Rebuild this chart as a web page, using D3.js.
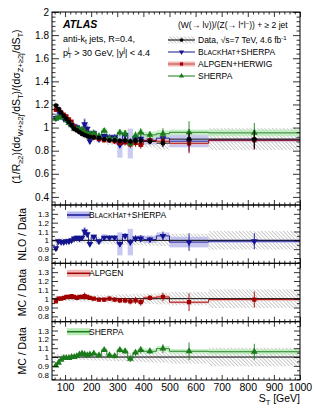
<!DOCTYPE html>
<html>
<head>
<meta charset="utf-8">
<script src="https://cdn.jsdelivr.net/npm/d3@7"></script>
<style>
body { margin: 0; background: #fff; }
text { font-family: "Liberation Sans", Arial, sans-serif; fill: #000; }
</style>
</head>
<body>
<div id="chart"></div>
<script>
// Data
const binEdges = [60, 70, 80, 90, 100, 110, 120, 130, 140, 150, 160, 170, 180, 190, 200,
                  220, 240, 260, 280, 300, 320, 340, 360, 380, 400, 450, 500, 650, 1000];

const dataVals = [1.19, 1.16, 1.13, 1.10, 1.075, 1.05, 1.02, 0.99, 0.975, 0.96, 0.945, 0.935, 0.925, 0.92,
                  0.915, 0.91, 0.90, 0.89, 0.89, 0.885, 0.89, 0.88, 0.885, 0.885, 0.88, 0.865, 0.90, 0.90];
const dataStat = [0.012, 0.01, 0.01, 0.01, 0.01, 0.01, 0.012, 0.012, 0.012, 0.013, 0.014, 0.015, 0.016, 0.017,
                  0.014, 0.016, 0.018, 0.02, 0.022, 0.025, 0.027, 0.03, 0.032, 0.035, 0.028, 0.04, 0.065, 0.085];
const dataSys = [0.035, 0.03, 0.03, 0.03, 0.03, 0.03, 0.03, 0.03, 0.03, 0.03, 0.035, 0.035, 0.035, 0.035,
                 0.04, 0.04, 0.04, 0.045, 0.045, 0.05, 0.05, 0.05, 0.055, 0.055, 0.06, 0.065, 0.075, 0.105];

// BlackHat+Sherpa
const bhMain = [1.083, 1.148, 1.107, 1.078, 1.064, 1.040, 1.020, 1.010, 1.004, 0.979, 0.973, 1.029, 0.990, 0.883,
                0.952, 0.901, 0.927, 0.917, 0.917, 0.850, 0.935, 0.862, 0.903, 0.903, 0.889, 0.908, 0.882, 0.891];
const bhRatio = [0.91, 0.99, 0.98, 0.98, 0.99, 0.99, 1.00, 1.02, 1.03, 1.02, 1.03, 1.10, 1.07, 0.96,
                 1.04, 0.99, 1.03, 1.03, 1.03, 0.96, 1.05, 0.98, 1.02, 1.02, 1.01, 1.05, 0.98, 0.99];
const bhBand = [0.03, 0.02, 0.02, 0.02, 0.02, 0.03, 0.02, 0.03, 0.03, 0.03, 0.03, 0.05, 0.04, 0.03,
                0.03, 0.03, 0.04, 0.03, 0.03, 0.13, 0.03, 0.15, 0.03, 0.04, 0.04, 0.04, 0.06, 0.02];

// Alpgen+Herwig
const alpMain = [1.154, 1.160, 1.130, 1.111, 1.097, 1.071, 1.051, 1.010, 0.985, 0.979, 0.964, 0.963, 0.944, 0.929,
                 0.915, 0.901, 0.891, 0.890, 0.881, 0.867, 0.872, 0.854, 0.867, 0.850, 0.889, 0.882, 0.864, 0.891];
const alpRatio = [0.97, 1.00, 1.00, 1.01, 1.02, 1.02, 1.03, 1.02, 1.01, 1.02, 1.02, 1.03, 1.02, 1.01,
                  1.00, 0.99, 0.99, 1.00, 0.99, 0.98, 0.98, 0.97, 0.98, 0.96, 1.01, 1.02, 0.96, 0.99];
const alpBand = [0.015, 0.015, 0.015, 0.015, 0.015, 0.015, 0.015, 0.015, 0.015, 0.015, 0.015, 0.015, 0.015, 0.015,
                 0.02, 0.02, 0.02, 0.02, 0.02, 0.02, 0.02, 0.02, 0.02, 0.02, 0.02, 0.02, 0.015, 0.015];

// Sherpa
const shMain = [1.077, 1.085, 1.096, 1.089, 1.064, 1.040, 1.020, 0.990, 0.985, 0.989, 0.983, 0.963, 0.944, 0.948,
                0.952, 0.928, 0.972, 0.908, 0.899, 0.956, 0.948, 0.862, 0.929, 0.956, 0.937, 0.947, 0.959, 0.954];
const shRatio = [0.905, 0.935, 0.97, 0.99, 0.99, 0.99, 1.00, 1.00, 1.01, 1.03, 1.04, 1.03, 1.02, 1.03,
                 1.04, 1.02, 1.08, 1.02, 1.01, 1.08, 1.065, 0.98, 1.05, 1.08, 1.065, 1.095, 1.065, 1.06];
const shBand = [0.015, 0.015, 0.015, 0.015, 0.015, 0.015, 0.015, 0.015, 0.015, 0.015, 0.02, 0.02, 0.02, 0.02,
                0.02, 0.02, 0.025, 0.025, 0.025, 0.025, 0.03, 0.03, 0.03, 0.03, 0.03, 0.03, 0.025, 0.03];

const ratioErr = [0.015, 0.012, 0.012, 0.012, 0.012, 0.012, 0.014, 0.014, 0.015, 0.016, 0.018, 0.04, 0.02, 0.02,
                  0.018, 0.02, 0.022, 0.025, 0.027, 0.03, 0.032, 0.035, 0.038, 0.04, 0.032, 0.05, 0.1, 0.09];

const xTicks = [100, 200, 300, 400, 500, 600, 700, 800, 900, 1000];
const mainYTicks = [0.4, 0.6, 0.8, 1, 1.2, 1.4, 1.6, 1.8, 2];
const ratioYTicks = [0.8, 0.9, 1, 1.1, 1.2, 1.3];

// Layout
const width = 316;
const height = 413;
const xLeft = 52, xRight = 300;

const colors = { data: '#000', bh: '#14148f', alp: '#a00000', sh: '#1b7a1b' };
const bandColors = { bh: '#b9b9ef', alp: '#f3b9b9', sh: '#b6ebb6' };

const bins = binEdges.slice(0, -1).map((lo, i) => ({ lo, hi: binEdges[i + 1], c: (lo + binEdges[i + 1]) / 2, i }));

const svg = d3.select('#chart').append('svg')
    .attr('width', width)
    .attr('height', height);

const defs = svg.append('defs');
const hatch = defs.append('pattern')
    .attr('id', 'hatch')
    .attr('patternUnits', 'userSpaceOnUse')
    .attr('width', 2.6).attr('height', 2.6)
    .attr('patternTransform', 'rotate(-45)');
hatch.append('line')
    .attr('x1', 0).attr('y1', 0).attr('x2', 0).attr('y2', 2.6)
    .attr('stroke', '#6e6e6e').attr('stroke-width', 0.7);

const x = d3.scaleLinear().domain([50, 1000]).range([xLeft, xRight]);
const xMinor = d3.range(60, 1001, 20).filter(v => v % 100 !== 0);

const symbols = {
    data: { type: d3.symbolCircle, size: 18, rot: 0 },
    bh: { type: d3.symbolTriangle, size: 20, rot: 180 },
    alp: { type: d3.symbolSquare, size: 18, rot: 0 },
    sh: { type: d3.symbolTriangle, size: 20, rot: 0 }
};

function drawMarker(g, key, cx, cy, scale = 1) {
    const s = symbols[key];
    g.append('path')
        .attr('d', d3.symbol().type(s.type).size(s.size * scale)())
        .attr('transform', `translate(${cx},${cy}) rotate(${s.rot})`)
        .attr('fill', colors[key]);
}

function drawFrame(g, y, top, bottom, yMajor, yMinor, showX, majorLen, minorLen) {
    const axes = g.append('g').attr('class', 'axes');
    const mk = (axis, tr) => axes.append('g').attr('transform', tr).call(axis)
        .call(a => a.select('.domain').remove());

    // y ticks, left (with labels) and right
    mk(d3.axisLeft(y).tickValues(yMajor).tickSize(-majorLen).tickPadding(3)
        .tickFormat(d => String(+d.toFixed(2))), `translate(${xLeft},0)`);
    mk(d3.axisLeft(y).tickValues(yMinor).tickSize(-minorLen).tickFormat(''), `translate(${xLeft},0)`);
    mk(d3.axisRight(y).tickValues(yMajor).tickSize(-majorLen).tickFormat(''), `translate(${xRight},0)`);
    mk(d3.axisRight(y).tickValues(yMinor).tickSize(-minorLen).tickFormat(''), `translate(${xRight},0)`);

    // x ticks, top and bottom
    mk(d3.axisTop(x).tickValues(xTicks).tickSize(-5).tickFormat(''), `translate(0,${top})`);
    mk(d3.axisTop(x).tickValues(xMinor).tickSize(-2.5).tickFormat(''), `translate(0,${top})`);
    mk(d3.axisBottom(x).tickValues(xTicks).tickSize(-5).tickPadding(4)
        .tickFormat(showX ? d3.format('d') : ''), `translate(0,${bottom})`);
    mk(d3.axisBottom(x).tickValues(xMinor).tickSize(-2.5).tickFormat(''), `translate(0,${bottom})`);

    axes.selectAll('line').attr('stroke', '#000').attr('stroke-width', 0.8);
    axes.selectAll('text').attr('font-family', '"Liberation Sans", Arial, sans-serif').attr('fill', '#000');

    g.append('rect')
        .attr('x', xLeft).attr('y', top)
        .attr('width', xRight - xLeft).attr('height', bottom - top)
        .attr('fill', 'none').attr('stroke', '#000').attr('stroke-width', 1);
    return axes;
}

function stepPath(y, vals) {
    const pts = bins.map(b => [b.lo, vals[b.i]]);
    pts.push([binEdges[binEdges.length - 1], vals[vals.length - 1]]);
    return d3.line().x(d => x(d[0])).y(d => y(d[1])).curve(d3.curveStepAfter)(pts);
}

function clipFor(id, top, bottom) {
    defs.append('clipPath').attr('id', id).append('rect')
        .attr('x', xLeft).attr('y', top).attr('width', xRight - xLeft).attr('height', bottom - top);
    return `url(#${id})`;
}

// ---------- Main panel ----------
const mainTop = 12, mainBottom = 205;
const yMain = d3.scaleLinear().domain([0.33, 2]).range([mainBottom, mainTop]);
const mainG = svg.append('g');
const mainPlot = mainG.append('g').attr('clip-path', clipFor('clipMain', mainTop, mainBottom));

// data systematic band (hatched)
mainPlot.selectAll('.sys').data(bins).enter().append('rect')
    .attr('x', b => x(b.lo)).attr('width', b => x(b.hi) - x(b.lo))
    .attr('y', b => yMain(dataVals[b.i] * (1 + dataSys[b.i])))
    .attr('height', b => yMain(dataVals[b.i] * (1 - dataSys[b.i])) - yMain(dataVals[b.i] * (1 + dataSys[b.i])))
    .attr('fill', 'url(#hatch)');

const mcSeries = [
    { key: 'bh', main: bhMain, ratio: bhRatio, band: bhBand },
    { key: 'alp', main: alpMain, ratio: alpRatio, band: alpBand },
    { key: 'sh', main: shMain, ratio: shRatio, band: shBand }
];

mcSeries.forEach(s => {
    mainPlot.append('g').selectAll('rect').data(bins).enter().append('rect')
        .attr('x', b => x(b.lo)).attr('width', b => x(b.hi) - x(b.lo))
        .attr('y', b => yMain(s.main[b.i] * (1 + s.band[b.i])))
        .attr('height', b => yMain(s.main[b.i] * (1 - s.band[b.i])) - yMain(s.main[b.i] * (1 + s.band[b.i])))
        .attr('fill', bandColors[s.key]).attr('opacity', 0.75);
});
mcSeries.forEach(s => {
    mainPlot.append('path').attr('d', stepPath(yMain, s.main))
        .attr('fill', 'none').attr('stroke', colors[s.key]).attr('stroke-width', 0.9);
});
// data horizontal bars
mainPlot.append('g').selectAll('line').data(bins).enter().append('line')
    .attr('x1', b => x(b.lo)).attr('x2', b => x(b.hi))
    .attr('y1', b => yMain(dataVals[b.i])).attr('y2', b => yMain(dataVals[b.i]))
    .attr('stroke', '#000').attr('stroke-width', 0.9);

mcSeries.forEach(s => {
    const g = mainPlot.append('g');
    bins.forEach(b => {
        const v = s.main[b.i], e = v * ratioErr[b.i];
        g.append('line').attr('x1', x(b.c)).attr('x2', x(b.c))
            .attr('y1', yMain(v - e)).attr('y2', yMain(v + e))
            .attr('stroke', colors[s.key]).attr('stroke-width', 0.9);
        drawMarker(g, s.key, x(b.c), yMain(v));
    });
});
const dataG = mainPlot.append('g');
bins.forEach(b => {
    const v = dataVals[b.i], e = v * dataStat[b.i];
    dataG.append('line').attr('x1', x(b.c)).attr('x2', x(b.c))
        .attr('y1', yMain(v - e)).attr('y2', yMain(v + e))
        .attr('stroke', '#000').attr('stroke-width', 1);
    drawMarker(dataG, 'data', x(b.c), yMain(v));
});

const mainAxes = drawFrame(mainG, yMain, mainTop, mainBottom, mainYTicks,
    d3.range(0.36, 2.0, 0.04).filter(v => Math.abs(v * 5 - Math.round(v * 5)) > 0.01), false, 7, 3.5);
mainAxes.selectAll('text').attr('font-size', 10);

// Main labels
mainG.append('text').attr('x', 63).attr('y', 28)
    .attr('font-size', 10.5).attr('font-weight', 'bold').attr('font-style', 'italic').text('ATLAS');
const t1 = mainG.append('text').attr('x', 63).attr('y', 42).attr('font-size', 9);
t1.append('tspan').text('anti-k');
t1.append('tspan').attr('font-size', 6.5).attr('dy', 2).text('t');
t1.append('tspan').attr('dy', -2).text(' jets, R=0.4,');
const t2 = mainG.append('text').attr('x', 63).attr('y', 56).attr('font-size', 9);
t2.append('tspan').text('p');
t2.append('tspan').attr('font-size', 6.5).attr('dy', -4).text('j');
t2.append('tspan').attr('font-size', 6.5).attr('dx', -1.8).attr('dy', 6).text('T');
t2.append('tspan').attr('dy', -2).text(' > 30 GeV, |y');
t2.append('tspan').attr('font-size', 6.5).attr('dy', -4).text('j');
t2.append('tspan').attr('dy', 4).text('| < 4.4');

// Legend
const lg = mainG.append('g');
const hdr = lg.append('text').attr('x', 178).attr('y', 28).attr('font-size', 8.5);
hdr.append('tspan').text('(W(\u2192 l\u03bd))/(Z(\u2192 l');
hdr.append('tspan').attr('font-size', 6).attr('dy', -3).text('+');
hdr.append('tspan').attr('dy', 3).text('l');
hdr.append('tspan').attr('font-size', 6).attr('dy', -3).text('\u2212');
hdr.append('tspan').attr('dy', 3).text(')) + \u2265 2 jet');

const legRows = [
    { key: 'data', y: 40 },
    { key: 'bh', y: 52 },
    { key: 'alp', y: 64 },
    { key: 'sh', y: 76 }
];
const symX0 = 168, symX1 = 195;
legRows.forEach(r => {
    if (r.key === 'data') {
        lg.append('rect').attr('x', symX0).attr('y', r.y - 3.5).attr('width', symX1 - symX0).attr('height', 7)
            .attr('fill', 'url(#hatch)');
    }
    if (r.key === 'alp') {
        lg.append('rect').attr('x', symX0).attr('y', r.y - 2.5).attr('width', symX1 - symX0).attr('height', 5)
            .attr('fill', bandColors.alp);
    }
    lg.append('line').attr('x1', symX0).attr('x2', symX1).attr('y1', r.y).attr('y2', r.y)
        .attr('stroke', colors[r.key]).attr('stroke-width', r.key === 'alp' ? 0.6 : 1);
    drawMarker(lg, r.key, (symX0 + symX1) / 2, r.y, 0.6);
});

function smallCaps(textSel, parts, big, small) {
    parts.forEach(([s, isBig]) => textSel.append('tspan').attr('font-size', isBig ? big : small).text(s));
}

const ld = lg.append('text').attr('x', 198).attr('y', 43).attr('font-size', 8.5);
ld.append('tspan').text('Data, \u221as=7 TeV, 4.6 fb');
ld.append('tspan').attr('font-size', 6).attr('dy', -3).text('-1');
const lb = lg.append('text').attr('x', 198).attr('y', 55);
smallCaps(lb, [['B', 1], ['LACK', 0], ['H', 1], ['AT', 0], ['+SHERPA', 1]], 8.5, 6.8);
lg.append('text').attr('x', 198).attr('y', 67).attr('font-size', 8.5).text('ALPGEN+HERWIG');
lg.append('text').attr('x', 198).attr('y', 79).attr('font-size', 8.5).text('SHERPA');

// Main y title
const yt = mainG.append('text')
    .attr('transform', `translate(20,${(mainTop + mainBottom) / 2 - 2}) rotate(-90)`)
    .attr('text-anchor', 'middle').attr('font-size', 10.5);
const sub = (sel, s) => { sel.append('tspan').attr('font-size', 7.5).attr('dy', 2.5).text(s); };
const norm = (sel, s) => { sel.append('tspan').attr('dy', -2.5).text(s); };
yt.append('tspan').text('(1/R');
sub(yt, '\u22652'); norm(yt, ')(d\u03c3');
sub(yt, 'W+\u22652j'); norm(yt, '/dS');
sub(yt, 'T'); norm(yt, ')/(d\u03c3');
sub(yt, 'Z+\u22652j'); norm(yt, '/dS');
sub(yt, 'T'); norm(yt, ')');

// ---------- Ratio panels ----------
const ratioPanels = [
    { key: 'bh', ratio: bhRatio, band: bhBand, top: 205, bottom: 263.3, title: 'NLO / Data', legend: 'bh' },
    { key: 'alp', ratio: alpRatio, band: alpBand, top: 263.3, bottom: 321.7, title: 'MC / Data', legend: 'ALPGEN' },
    { key: 'sh', ratio: shRatio, band: shBand, top: 321.7, bottom: 380, title: 'MC / Data', legend: 'SHERPA' }
];
const ratioMinor = [0.75, 0.85, 0.95, 1.05, 1.15, 1.25, 1.35];

ratioPanels.forEach((p, pi) => {
    const y = d3.scaleLinear().domain([0.74, 1.4]).range([p.bottom, p.top]);
    const g = svg.append('g');
    const plot = g.append('g').attr('clip-path', clipFor('clipR' + pi, p.top, p.bottom));

    plot.append('g').selectAll('rect').data(bins).enter().append('rect')
        .attr('x', b => x(b.lo)).attr('width', b => x(b.hi) - x(b.lo))
        .attr('y', b => y(1 + dataSys[b.i]))
        .attr('height', b => y(1 - dataSys[b.i]) - y(1 + dataSys[b.i]))
        .attr('fill', 'url(#hatch)');
    plot.append('g').selectAll('rect').data(bins).enter().append('rect')
        .attr('x', b => x(b.lo)).attr('width', b => x(b.hi) - x(b.lo))
        .attr('y', b => y(p.ratio[b.i] + p.band[b.i]))
        .attr('height', b => y(p.ratio[b.i] - p.band[b.i]) - y(p.ratio[b.i] + p.band[b.i]))
        .attr('fill', bandColors[p.key]).attr('opacity', 0.8);
    plot.append('line').attr('x1', xLeft).attr('x2', xRight).attr('y1', y(1)).attr('y2', y(1))
        .attr('stroke', '#000').attr('stroke-width', 1);
    plot.append('path').attr('d', stepPath(y, p.ratio))
        .attr('fill', 'none').attr('stroke', colors[p.key]).attr('stroke-width', 0.9);
    const mg = plot.append('g');
    bins.forEach(b => {
        const v = p.ratio[b.i], e = ratioErr[b.i];
        mg.append('line').attr('x1', x(b.c)).attr('x2', x(b.c))
            .attr('y1', y(v - e)).attr('y2', y(v + e))
            .attr('stroke', colors[p.key]).attr('stroke-width', 0.9);
        drawMarker(mg, p.key, x(b.c), y(v));
    });

    const axes = drawFrame(g, y, p.top, p.bottom, ratioYTicks, ratioMinor, pi === ratioPanels.length - 1, 6, 3);
    axes.selectAll('text').attr('font-size', 8);
    if (pi === ratioPanels.length - 1) {
        axes.selectAll('.tick text').filter(function () { return this.textContent.length > 0 && +this.textContent >= 100; })
            .attr('font-size', 10.5);
    }

    // legend box
    const ly = p.top + 10;
    g.append('rect').attr('x', 67).attr('y', ly - 3.5).attr('width', 23).attr('height', 7)
        .attr('fill', bandColors[p.key]);
    g.append('line').attr('x1', 67).attr('x2', 90).attr('y1', ly).attr('y2', ly)
        .attr('stroke', colors[p.key]).attr('stroke-width', 1.5);
    const lt = g.append('text').attr('x', 89).attr('y', ly + 3).attr('font-size', 8.5);
    if (p.legend === 'bh') {
        smallCaps(lt, [['B', 1], ['LACK', 0], ['H', 1], ['AT', 0], ['+SHERPA', 1]], 8.5, 6.8);
    } else {
        lt.text(p.legend);
    }

    g.append('text')
        .attr('transform', `translate(26,${(p.top + p.bottom) / 2}) rotate(-90)`)
        .attr('text-anchor', 'middle').attr('font-size', 10.5).text(p.title);
});

// x title
const xt = svg.append('text').attr('x', xRight).attr('y', 402).attr('text-anchor', 'end').attr('font-size', 10.5);
xt.append('tspan').text('S');
xt.append('tspan').attr('font-size', 7.5).attr('dy', 2.5).text('T');
xt.append('tspan').attr('dy', -2.5).text(' [GeV]');
</script>
</body>
</html>
